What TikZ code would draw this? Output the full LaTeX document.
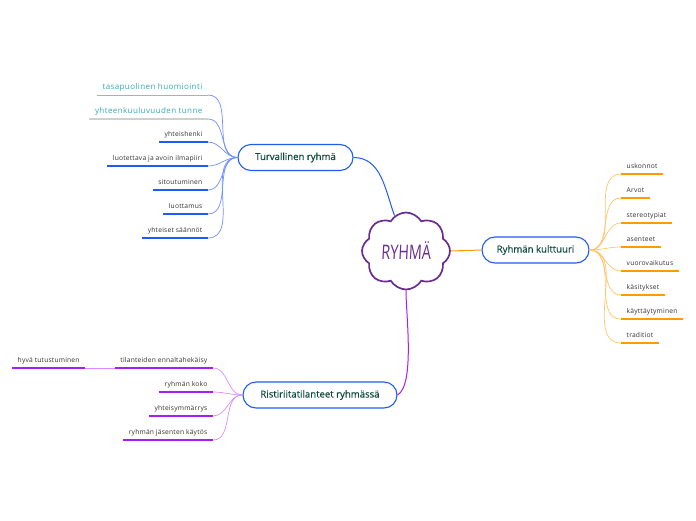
\documentclass[tikz,border=0pt]{standalone}
\usepackage{fontspec}
\setmainfont{Open Sans}
\newfontfamily\handfont[FakeSlant=0.05,FakeStretch=0.72]{Open Sans}
\newfontfamily\topicfont[FakeBold=0.35]{Open Sans}
\newfontfamily\leaffont[LetterSpace=3]{Open Sans}
\newfontfamily\tealfont[LetterSpace=5]{Open Sans}
\usetikzlibrary{positioning, shapes.symbols}
\definecolor{topicblue}{HTML}{1F5BF5}
\definecolor{topicgreen}{HTML}{0E4A3B}
\definecolor{leafgray}{HTML}{333333}
\definecolor{tealtext}{HTML}{3BA6B3}
\definecolor{bluecurve}{HTML}{6F8FFF}
\definecolor{blueline}{HTML}{2258FF}
\definecolor{paleblue}{HTML}{8FB0FF}
\definecolor{palegray}{HTML}{CFCFCF}
\definecolor{orangecurve}{HTML}{FFC46E}
\definecolor{orangeline}{HTML}{FF9A00}
\definecolor{purplecurve}{HTML}{D98CFF}
\definecolor{purpleline}{HTML}{A81CF5}
\definecolor{cloudpurple}{HTML}{6A2C91}

\begin{document}
\begin{tikzpicture}[x=1pt,y=-1pt]
  \tikzset{topic/.style={draw=topicblue,line width=1.1pt,rounded corners=13pt,fill=white,
      minimum height=26pt,inner xsep=0pt,text=topicgreen,font=\topicfont\fontsize{9.6}{10}\selectfont}}
  \tikzset{leaf/.style={inner xsep=5.5pt,inner ysep=3.5pt,text height=5pt,text depth=2pt,
      text=leafgray,font=\leaffont\fontsize{6.7}{7}\selectfont}}
  \tikzset{tealleaf/.style={leaf,text=tealtext,font=\tealfont\fontsize{8}{8}\selectfont}}
  \useasboundingbox (0,0) rectangle (696,520);
  % root
  \node[cloud,cloud puffs=8,cloud puff arc=120,aspect=1.15,draw=cloudpurple,line width=1.7pt,
    minimum width=88pt,minimum height=77pt,inner sep=0pt,text=cloudpurple,
    font=\handfont\fontsize{20}{20}\selectfont](ryhma) at (406,251) {\raisebox{-4pt}{RYHMÄ}};
  % topics
  \node[topic,minimum width=115pt](tr) at (295.5,157.5) {Turvallinen ryhmä};
  \node[topic,minimum width=107pt](ku) at (535.5,250) {Ryhmän kulttuuri};
  \node[topic,minimum width=154pt](ri) at (320,395) {Ristiriitatilanteet ryhmässä};
  \draw[topicblue,line width=1pt] (tr.east) to[out=0,in=110] (ryhma.108);
  \draw[orangeline,line width=1pt] (ryhma.east) -- (ku.west);
  \draw[purpleline,line width=1pt] (ryhma.south) to[out=-91,in=30,looseness=0.5] (ri.east);
  % Turvallinen ryhma
  \node[tealleaf,anchor=south east](t1) at (208,95) {tasapuolinen huomiointi};
  \node[tealleaf,anchor=south east](t2) at (208,119) {yhteenkuuluvuuden tunne};
  \node[leaf,anchor=south east](t3) at (208,142) {yhteishenki};
  \node[leaf,anchor=south east](t4) at (208,166) {luotettava ja avoin ilmapiiri};
  \node[leaf,anchor=south east](t5) at (208,190) {sitoutuminen};
  \node[leaf,anchor=south east](t6) at (208,214) {luottamus};
  \node[leaf,anchor=south east](t7) at (208,238) {yhteiset säännöt};
  \foreach \n in {t1,t2,t3,t4,t5,t6,t7}
    \draw[bluecurve,line width=0.7pt] (tr.west) to[out=180,in=0] (\n.south east);
  \draw[paleblue,line width=0.6pt] (t1.south west) -- (t1.south east);
  \draw[palegray,line width=1.6pt] (t2.south west) -- (t2.south east);
  \foreach \n in {t3,t4,t5,t6,t7}
    \draw[blueline,line width=1.8pt] (\n.south west) -- (\n.south east);
  % Ryhman kulttuuri
  \node[leaf,anchor=south west](k1) at (621,174) {uskonnot};
  \node[leaf,anchor=south west](k2) at (621,198) {Arvot};
  \node[leaf,anchor=south west](k3) at (621,223) {stereotypiat};
  \node[leaf,anchor=south west](k4) at (621,247) {asenteet};
  \node[leaf,anchor=south west](k5) at (621,271) {vuorovaikutus};
  \node[leaf,anchor=south west](k6) at (621,295) {käsitykset};
  \node[leaf,anchor=south west](k7) at (621,319) {käyttäytyminen};
  \node[leaf,anchor=south west](k8) at (621,343) {traditiot};
  \foreach \n in {k1,k2,k3,k4,k5,k6,k7,k8}{
    \draw[orangecurve,line width=0.7pt] (ku.east) to[out=0,in=180] (\n.south west);
    \draw[orangeline,line width=1.8pt] (\n.south west) -- (\n.south east);
  }
  % Ristiriitatilanteet
  \node[leaf,anchor=south east](r1) at (213,368) {tilanteiden ennaltahekäisy};
  \node[leaf,anchor=south east](r2) at (213,392) {ryhmän koko};
  \node[leaf,anchor=south east](r3) at (213,416) {yhteisymmärrys};
  \node[leaf,anchor=south east](r4) at (213,440) {ryhmän jäsenten käytös};
  \node[leaf,anchor=south west](h1) at (12,368) {hyvä tutustuminen};
  \foreach \n in {r1,r2,r3,r4}{
    \draw[purplecurve,line width=0.7pt] (ri.west) to[out=180,in=0] (\n.south east);
    \draw[purpleline,line width=1.8pt] (\n.south west) -- (\n.south east);
  }
  \draw[purplecurve,line width=0.7pt] (h1.south east) -- (r1.south west);
  \draw[purpleline,line width=1.8pt] (h1.south west) -- (h1.south east);
\end{tikzpicture}
\end{document}
